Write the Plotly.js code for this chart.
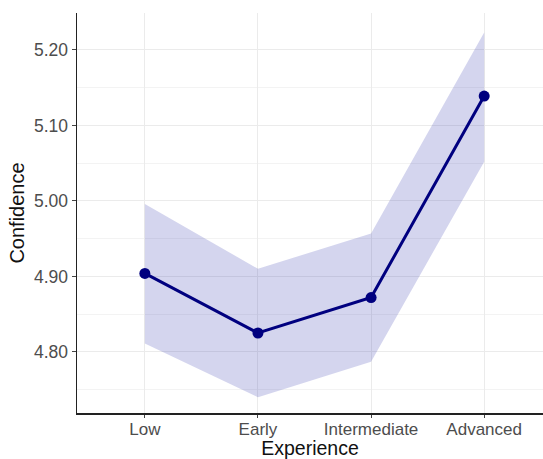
<!DOCTYPE html>
<html>
<head>
<meta charset="utf-8">
<script src="https://cdn.plot.ly/plotly-3.0.1.min.js"></script>
<style>html,body{margin:0;padding:0;background:#fff;}#chart{width:543px;height:459px;}</style>
</head>
<body>
<div id="chart"></div>
<script>
const categories = ["Low", "Early", "Intermediate", "Advanced"];
const meanValues = [4.904, 4.825, 4.872, 5.139];
const upperValues = [4.996, 4.910, 4.957, 5.223];
const lowerValues = [4.811, 4.740, 4.787, 5.052];
const yTickValues = [4.80, 4.90, 5.00, 5.10, 5.20];
const yTickLabels = ["4.80", "4.90", "5.00", "5.10", "5.20"];

const idx = categories.map((c, i) => i);

const traces = [
  {
    x: idx, y: upperValues, type: "scatter", mode: "lines",
    line: {width: 0, color: "rgba(0,0,0,0)"}, hoverinfo: "skip", showlegend: false
  },
  {
    x: idx, y: lowerValues, type: "scatter", mode: "lines",
    line: {width: 0, color: "rgba(0,0,0,0)"}, fill: "tonexty",
    fillcolor: "rgba(40,45,170,0.2)", hoverinfo: "skip", showlegend: false
  },
  {
    x: idx, y: meanValues, type: "scatter", mode: "lines+markers",
    line: {color: "#00007f", width: 3}, marker: {color: "#00007f", size: 11},
    showlegend: false
  }
];

const layout = {
  width: 543, height: 459,
  margin: {l: 77, r: 0, t: 13, b: 46},
  paper_bgcolor: "#fff", plot_bgcolor: "#fff",
  font: {family: "Liberation Sans, Arial, sans-serif"},
  xaxis: {
    range: [-0.6, 3.52],
    tickvals: idx, ticktext: categories,
    showgrid: true, gridcolor: "#ebebeb", gridwidth: 1,
    zeroline: false,
    showline: true, linecolor: "#222", linewidth: 1.5,
    ticks: "outside", ticklen: 3, tickcolor: "#444", tickwidth: 1,
    ticklabelstandoff: -3,
    tickfont: {size: 17, color: "#4d4d4d"},
    title: {text: "Experience", font: {size: 19.5, color: "#111"}, standoff: 6},
    fixedrange: true
  },
  yaxis: {
    range: [4.719, 5.249],
    tickvals: yTickValues, ticktext: yTickLabels,
    showgrid: true, gridcolor: "#ebebeb", gridwidth: 1,
    minor: {tickvals: [4.75, 4.85, 4.95, 5.05, 5.15, 5.25], showgrid: true, gridcolor: "#f3f3f3", gridwidth: 1, ticks: ""},
    zeroline: false,
    showline: true, linecolor: "#222", linewidth: 1.5,
    ticks: "outside", ticklen: 4, tickcolor: "#444", tickwidth: 1,
    tickfont: {size: 17.5, color: "#4d4d4d"},
    title: {text: "Confidence", font: {size: 20, color: "#111"}, standoff: 4},
    fixedrange: true
  }
};

Plotly.newPlot("chart", traces, layout, {displayModeBar: false, staticPlot: true});
</script>
</body>
</html>
